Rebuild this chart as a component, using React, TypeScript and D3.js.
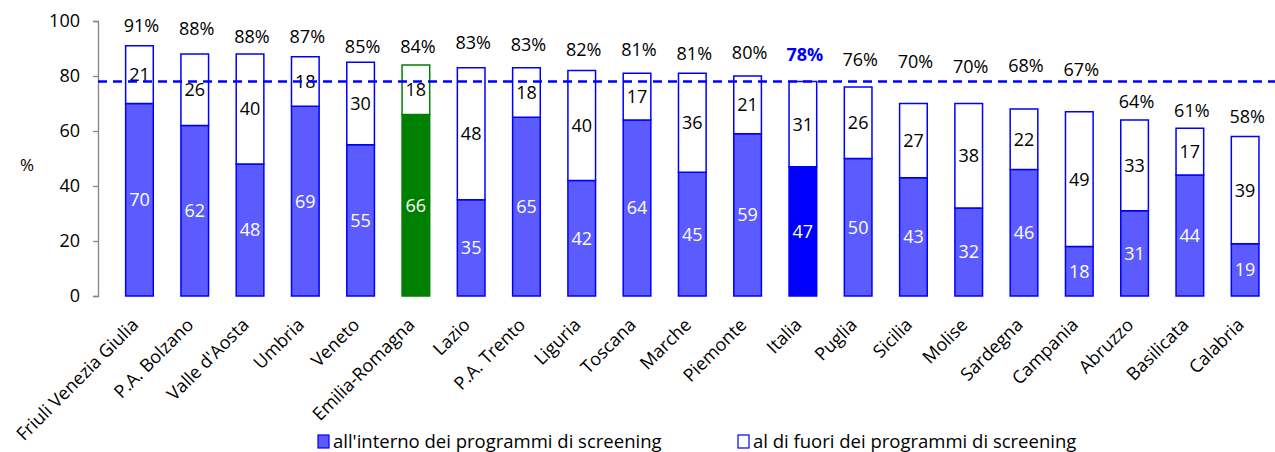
import * as d3 from 'd3';
import React, { useRef, useEffect } from 'react';

const categories = [
  "Friuli Venezia Giulia", "P.A. Bolzano", "Valle d'Aosta", "Umbria", "Veneto",
  "Emilia-Romagna", "Lazio", "P.A. Trento", "Liguria", "Toscana", "Marche",
  "Piemonte", "Italia", "Puglia", "Sicilia", "Molise", "Sardegna", "Campania",
  "Abruzzo", "Basilicata", "Calabria"
];
const inside = [70, 62, 48, 69, 55, 66, 35, 65, 42, 64, 45, 59, 47, 50, 43, 32, 46, 18, 31, 44, 19];
const outside = [21, 26, 40, 18, 30, 18, 48, 18, 40, 17, 36, 21, 31, 26, 27, 38, 22, 49, 33, 17, 39];
const totals = [91, 88, 88, 87, 85, 84, 83, 83, 82, 81, 81, 80, 78, 76, 70, 70, 68, 67, 64, 61, 58];
// level (in %) where the total label sits
const totalLabelLevel = [98.2, 97.3, 94.5, 94.3, 90.7, 90.9, 92.3, 91.5, 89.5, 89.5, 88.3, 88.5, 87.9, 86.1, 85.2, 83.4, 83.7, 82.2, 70.7, 67.6, 65.1];
const italyMean = 78;
const yTicks = [0, 20, 40, 60, 80, 100];
const legendLabels = ["all'interno dei programmi di screening", "al di fuori dei programmi di screening"];

const FONT = "'Open Sans', sans-serif";

function App(): any {
  const ref = useRef(null);
  const width = 1275;
  const height = 452;
  const margin = { top: 21, left: 98, bottom: 156 };

  useEffect(() => {
    const svg = d3.select(ref.current);
    svg.selectAll("*").remove();

    const x = d3.scaleBand()
      .domain(categories)
      .range([margin.left, margin.left + 56.6 * categories.length])
      .padding(0.5);
    const y = d3.scaleLinear()
      .domain([0, 100])
      .range([height - margin.bottom, margin.top]);

    const fillIn = (c: string) => c === "Emilia-Romagna" ? "#008000" : c === "Italia" ? "#0000ff" : "#5b5bff";
    const strokeOf = (c: string) => c === "Emilia-Romagna" ? "#008000" : "#0000ff";

    // axis
    const axis = svg.append("g")
      .attr("transform", "translate(" + margin.left + ",0)")
      .call(d3.axisLeft(y).tickValues(yTicks).tickSize(5).tickPadding(13));
    axis.select(".domain").attr("stroke", "#868686").attr("stroke-width", 1.3);
    axis.selectAll(".tick line").attr("stroke", "#868686").attr("stroke-width", 1.3);
    axis.selectAll(".tick text")
      .attr("font-family", FONT).attr("font-size", 18).attr("fill", "#000");

    svg.append("text")
      .attr("x", 27).attr("y", 171)
      .attr("text-anchor", "middle")
      .attr("font-family", FONT).attr("font-size", 17)
      .text("%");

    const g = svg.append("g");
    categories.forEach((c, i) => {
      const bx = x(c) as number;
      const bw = x.bandwidth();
      g.append("rect")
        .attr("x", bx).attr("y", y(inside[i]))
        .attr("width", bw).attr("height", y(0) - y(inside[i]))
        .attr("fill", fillIn(c)).attr("stroke", strokeOf(c)).attr("stroke-width", 1.5);
      g.append("rect")
        .attr("x", bx).attr("y", y(inside[i] + outside[i]))
        .attr("width", bw).attr("height", y(inside[i]) - y(inside[i] + outside[i]))
        .attr("fill", "#fff").attr("stroke", strokeOf(c)).attr("stroke-width", 1.5);

      g.append("text")
        .attr("x", bx + bw / 2).attr("y", y(inside[i] / 2))
        .attr("dy", "0.36em").attr("text-anchor", "middle")
        .attr("font-family", FONT).attr("font-size", 18).attr("fill", "#fff")
        .text(inside[i]);
      g.append("text")
        .attr("x", bx + bw / 2).attr("y", y(inside[i] + outside[i] / 2))
        .attr("dy", "0.36em").attr("text-anchor", "middle")
        .attr("font-family", FONT).attr("font-size", 18).attr("fill", "#000")
        .text(outside[i]);

      const isItaly = c === "Italia";
      g.append("text")
        .attr("x", bx + bw / 2 + 2).attr("y", y(totalLabelLevel[i]))
        .attr("dy", "0.36em").attr("text-anchor", "middle")
        .attr("font-family", FONT).attr("font-size", 18)
        .attr("font-weight", isItaly ? "bold" : "normal")
        .attr("fill", isItaly ? "#0000ff" : "#000")
        .text(totals[i] + "%");

      g.append("text")
        .attr("transform", "translate(" + (bx + bw / 2) + "," + (y(0) + 30) + ") rotate(-45)")
        .attr("text-anchor", "end")
        .attr("font-family", FONT).attr("font-size", 18).attr("fill", "#000")
        .text(c);
    });

    // national mean line
    svg.append("line")
      .attr("x1", margin.left).attr("x2", width)
      .attr("y1", y(italyMean)).attr("y2", y(italyMean))
      .attr("stroke", "#0000ff").attr("stroke-width", 2.5)
      .attr("stroke-dasharray", "9,6");

    // legend
    const legendX = [318, 738];
    legendLabels.forEach((l, i) => {
      svg.append("rect")
        .attr("x", legendX[i]).attr("y", 435)
        .attr("width", 11).attr("height", 13)
        .attr("fill", i === 0 ? "#5b5bff" : "#fff")
        .attr("stroke", "#0000ff").attr("stroke-width", 1.2);
      svg.append("text")
        .attr("x", legendX[i] + 15).attr("y", 448)
        .attr("font-family", FONT).attr("font-size", 18.5).attr("fill", "#000")
        .text(l);
    });
  }, []);

  return (
    <svg
      ref={ref}
      width={width}
      height={height}
      style={{ position: "absolute", left: 0, top: 0, background: "#fff" }}
    />
  );
}

export default App;
